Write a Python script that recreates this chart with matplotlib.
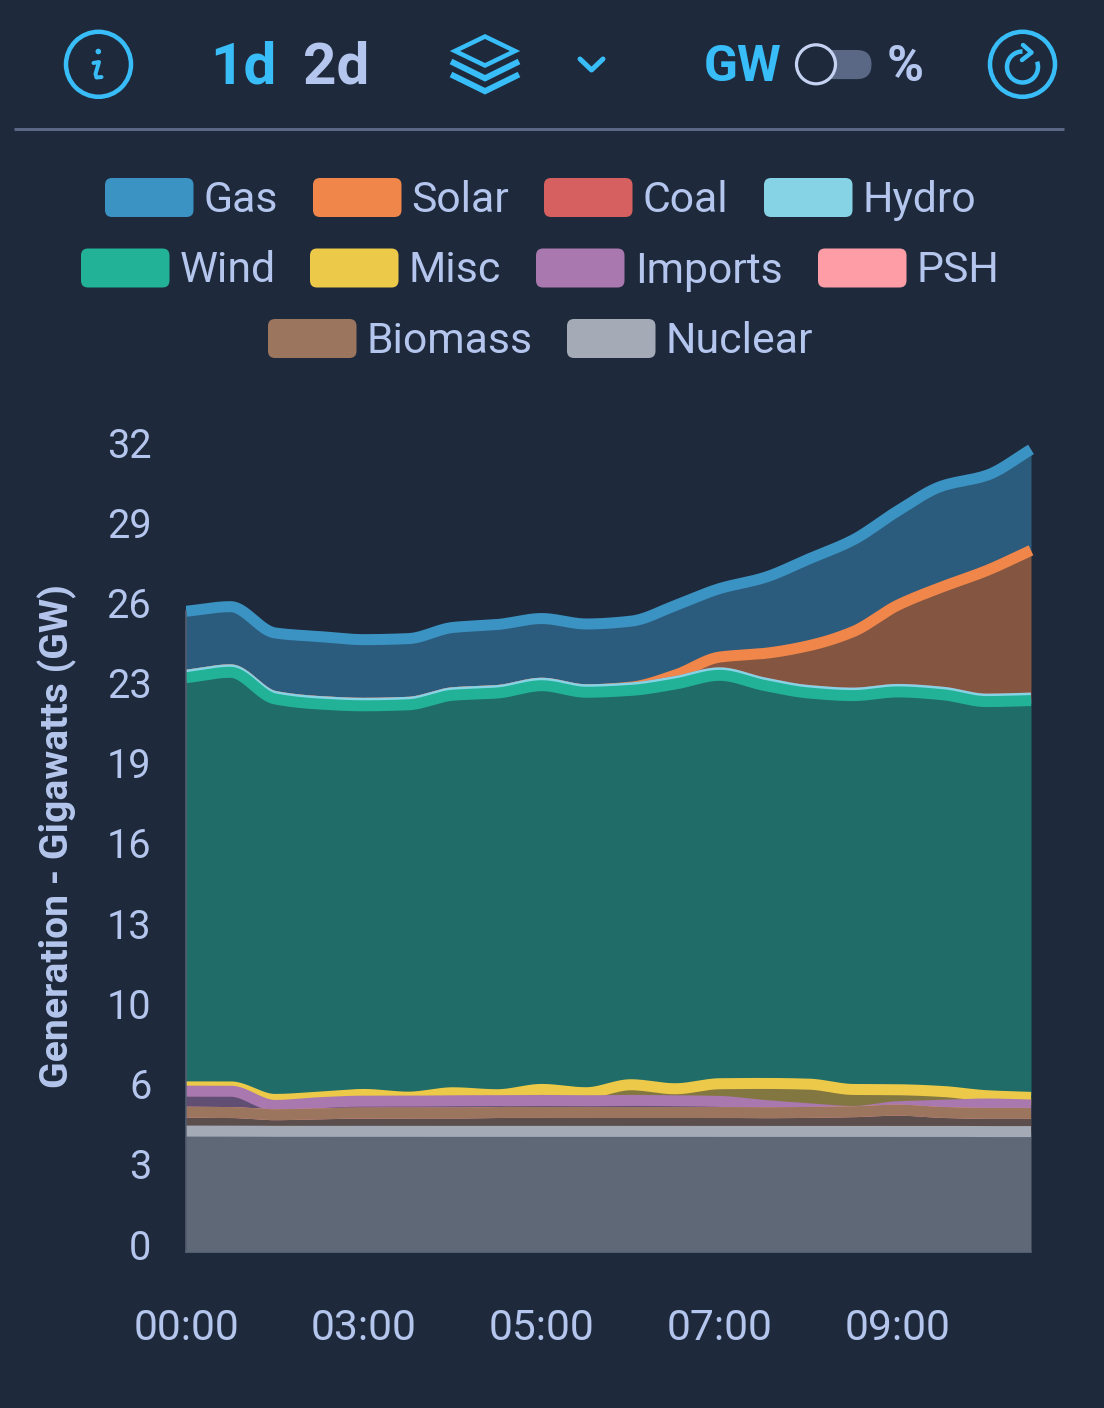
import numpy as np
import matplotlib
matplotlib.use("Agg")
import matplotlib.pyplot as plt
from matplotlib.patches import FancyBboxPatch, Circle, Arc, Polygon
from matplotlib.transforms import Bbox, TransformedBbox, ScaledTranslation

plt.rcParams['font.family'] = ['Roboto', 'DejaVu Sans']

# ---- data (GW per half-step sample) ----
nuclear = [4.90, 4.90, 4.89, 4.89, 4.89, 4.89, 4.89, 4.89, 4.89, 4.89,
           4.89, 4.89, 4.89, 4.89, 4.89, 4.89, 4.89, 4.89, 4.88, 4.88]
biomass = [.766, .754, .673, .713, .737, .737, .737, .766, .766, .766,
           .766, .766, .766, .754, .766, .794, .859, .766, .737, .737]
psh = [0.0] * 20
imports = [.851, .863, .377, .446, .486, .486, .502, .474, .486, .474,
           .486, .474, .446, .296, .150, .012, .138, .284, .381, .340]
misc = [.174, .174, .243, .227, .271, .162, .324, .243, .446, .324,
        .636, .486, .717, .891, .997, .891, .689, .567, .336, .308]
wind = [16.58, 16.80, 16.23, 15.93, 15.75, 15.90, 16.11, 16.28, 16.36, 16.23,
        15.98, 16.40, 16.55, 16.13, 15.85, 15.96, 16.12, 16.08, 15.97, 16.08]
hydro = [.10] * 20
coal = [0.0] * 20
solar = [0, 0, 0, 0, 0, 0, 0, 0, 0, 0,
         .03, .263, .640, 1.195, 1.815, 2.492, 3.412, 4.263, 5.207, 5.989]
gas = [2.593, 2.561, 2.573, 2.634, 2.581, 2.581, 2.646, 2.674, 2.622, 2.666,
       2.674, 2.816, 2.776, 3.071, 3.513, 3.716, 3.821, 4.092, 3.860, 4.090]

stack_order = [("Nuclear", nuclear, "#A4ABB7"), ("Biomass", biomass, "#9C755E"),
               ("PSH", psh, "#FF9DA7"), ("Imports", imports, "#A878AE"),
               ("Misc", misc, "#EDC949"), ("Wind", wind, "#22B297"),
               ("Hydro", hydro, "#85D3E5"), ("Coal", coal, "#D65F5F"),
               ("Solar", solar, "#F0864A"), ("Gas", gas, "#3B93C3")]

legend_rows = [["Gas", "Solar", "Coal", "Hydro"],
               ["Wind", "Misc", "Imports", "PSH"],
               ["Biomass", "Nuclear"]]
x_tick_pos = [0, 4, 8, 12, 16]
x_tick_labels = ["00:00", "03:00", "05:00", "07:00", "09:00"]
y_tick_pos = [0, 3.25, 6.5, 9.75, 13, 16.25, 19.5, 22.75, 26, 29.25, 32.5]
y_tick_labels = ["0", "3", "6", "10", "13", "16", "19", "23", "26", "29", "32"]

BG = "#1E293B"
TXT = "#B5C6EE"
CYAN = "#38BDF8"
GRID = "#5A6785"
W, H = 1104, 1408


def monotone(x, y, xf):
    """Monotone cubic (curveMonotoneX-style) rendering of a line."""
    x, y = np.asarray(x, float), np.asarray(y, float)
    h = np.diff(x)
    s = np.diff(y) / h
    m = np.zeros_like(y)
    for i in range(1, len(y) - 1):
        if s[i - 1] * s[i] > 0:
            m[i] = 2 * s[i - 1] * s[i] / (s[i - 1] + s[i])
    m[0], m[-1] = s[0], s[-1]
    idx = np.clip(np.searchsorted(x, xf, side="right") - 1, 0, len(h) - 1)
    t = (xf - x[idx]) / h[idx]
    return ((2*t**3 - 3*t**2 + 1) * y[idx] + (t**3 - 2*t**2 + t) * h[idx] * m[idx]
            + (-2*t**3 + 3*t**2) * y[idx + 1] + (t**3 - t**2) * h[idx] * m[idx + 1])


fig = plt.figure(figsize=(W / 100, H / 100), dpi=100, facecolor=BG)

# ---- chart ----
L, R, B, T = 186, 1031, 1252, 450
ax = fig.add_axes([L / W, 1 - B / H, (R - L) / W, (B - T) / H], facecolor="none")
xs = np.arange(20)
xf = np.linspace(0, 19, 1521)
cum = np.cumsum([np.asarray(s[1], float) for s in stack_order], axis=0)
px = 1 / 100 * 72  # points per pixel
clip = TransformedBbox(Bbox([[0, -0.01], [1.03, 1.2]]), ax.transAxes)
for k in range(len(stack_order) - 1, -1, -1):
    name, _, col = stack_order[k]
    top = monotone(xs, cum[k], xf)
    low = monotone(xs, cum[k - 1], xf) if k else np.zeros_like(xf)
    ax.fill_between(xf, low, top, color=col, alpha=0.49, lw=0, zorder=2)
    ln, = ax.plot(xf, top, color=col, lw=11 * px, solid_capstyle="butt",
                  solid_joinstyle="round", zorder=3, label=name)
    ln.set_clip_box(clip)
ax.set_xlim(0, 19)
ax.set_ylim(0, 32.5)
for side in ("top", "right"):
    ax.spines[side].set_visible(False)
for side in ("left", "bottom"):
    ax.spines[side].set_color("#5B6478")
    ax.spines[side].set_linewidth(1.5 * px)
    ax.spines[side].set_zorder(4)
ax.spines["left"].set_bounds(0, cum[-1][0])
ax.set_xticks(x_tick_pos, x_tick_labels)
ax.set_yticks(y_tick_pos, y_tick_labels)
ax.tick_params(length=0, colors=TXT)
ax.tick_params(axis="x", pad=40, labelsize=30.7)
ax.tick_params(axis="y", pad=25, labelsize=28.5)
up = ScaledTranslation(0, 8 / 100, fig.dpi_scale_trans)
for t in ax.get_yticklabels():
    t.set_transform(t.get_transform() + up)

# ---- overlay in pixel coordinates ----
ov = fig.add_axes([0, 0, 1, 1], facecolor="none")
ov.set_xlim(0, W)
ov.set_ylim(H, 0)
ov.axis("off")

ov.text(57.5, 836, "Generation - Gigawatts (GW)", rotation=90, color=TXT, fontsize=28.2,
        fontweight="bold", ha="center", va="center")

# legend
colors = {s[0]: s[2] for s in stack_order}
row_y = [197.5, 268, 338.5]
row_x = [[105, 313, 544, 764], [81, 310, 536, 818], [268, 567]]
for names, xrow, y in zip(legend_rows, row_x, row_y):
    for name, x0 in zip(names, xrow):
        ov.add_patch(FancyBboxPatch((x0 + 7, y - 12.5), 74.5, 25,
                                    boxstyle="round,pad=7", lw=0, fc=colors[name]))
        ov.text(x0 + 98.7, y - 1.5, name, color=TXT, fontsize=30.8, ha="left", va="center_baseline")

# toolbar
ov.plot([14, 1064], [129, 129], color=GRID, lw=3 * px, solid_capstyle="butt")
ov.add_patch(Circle((98.5, 64.3), 32.5, fc="none", ec=CYAN, lw=4.5 * px))
ov.add_patch(Circle((98.3, 51.5), 2.8, fc=CYAN, lw=0))
ov.plot([93.5, 99, 95.5, 96.5, 101.5], [63, 62, 74, 77.5, 77], color=CYAN, lw=4 * px,
        solid_capstyle="round", solid_joinstyle="round")
ov.text(210, 84, "1d", color=CYAN, fontsize=42, fontweight="bold", ha="left", va="baseline")
ov.text(303, 84, "2d", color=TXT, fontsize=42, fontweight="bold", ha="left", va="baseline")
ov.add_patch(Polygon([(485, 36.5), (515, 51), (485, 65.5), (455, 51)], closed=True, fc="none",
                     ec=CYAN, lw=4.5 * px, joinstyle="miter"))
ov.plot([451, 485, 519], [61.5, 78.3, 61.5], color=CYAN, lw=6 * px, solid_capstyle="butt", solid_joinstyle="miter")
ov.plot([451, 485, 519], [74.5, 91.2, 74.5], color=CYAN, lw=6 * px, solid_capstyle="butt", solid_joinstyle="miter")
ov.plot([580, 591.5, 603], [59, 70, 59], color=CYAN, lw=5 * px, solid_capstyle="round", solid_joinstyle="round")
ov.text(704, 81, "GW", color=CYAN, fontsize=36, fontweight="bold", ha="left", va="baseline")
ov.add_patch(FancyBboxPatch((812, 50 + 14.5), 45, 0.1, boxstyle="round,pad=14.5", lw=0, fc=GRID))
ov.add_patch(Circle((816, 64.3), 19.5, fc=BG, ec="#C5D2F2", lw=3.2 * px, zorder=5))
ov.text(886.5, 81, "%", color=TXT, fontsize=36, fontweight="bold", ha="left", va="baseline")
ov.add_patch(Circle((1022.5, 64.3), 32.5, fc="none", ec=CYAN, lw=4.5 * px))
ov.add_patch(Arc((1022.5, 67), 31, 31, theta1=-20, theta2=270, angle=0, ec=CYAN, lw=4.5 * px))
ov.plot([1023, 1031.5, 1022], [45, 52.5, 60], color=CYAN, lw=4.5 * px, solid_capstyle="round",
        solid_joinstyle="round")

fig.savefig("out.png", dpi=100, facecolor=BG)
